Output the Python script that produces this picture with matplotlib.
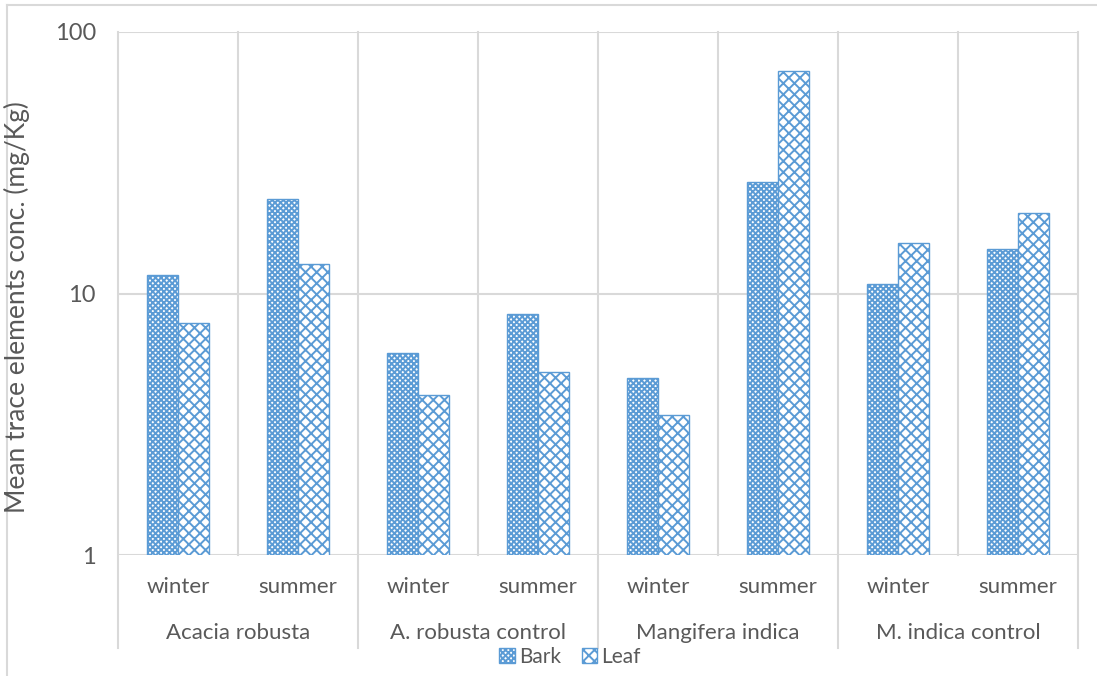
import numpy as np
import matplotlib
matplotlib.use('Agg')
import matplotlib.pyplot as plt
import matplotlib.transforms as mtransforms
from matplotlib.lines import Line2D

# Data
groups = ['Acacia robusta', 'A. robusta control', 'Mangifera indica',
          'M. indica control']
seasons = ['winter', 'summer']
bark = [11.8, 23.0, 5.9, 8.35, 4.75, 26.7, 10.9, 14.8]
leaf = [7.7, 13.0, 4.09, 5.0, 3.43, 71.0, 15.6, 20.3]

plt.rcParams['font.family'] = ['Lato', 'DejaVu Sans']
plt.rcParams['hatch.linewidth'] = 1.4
txt = '#595959'
grid = '#D9D9D9'
blue = '#5B9BD5'

W, H = 1097, 676
fig = plt.figure(figsize=(W / 100, H / 100), dpi=100)
ax = fig.add_axes([118 / W, 1 - 555 / H, 960 / W, 523 / H])

x = np.arange(len(bark))
w = 0.26
ax.bar(x - w / 2, bark, w, facecolor='white', edgecolor=blue,
       hatch='xxxxxx', linewidth=1, label='Bark', zorder=3)
ax.bar(x + w / 2, leaf, w, facecolor='white', edgecolor=blue,
       hatch='xxx', linewidth=1, label='Leaf', zorder=3)

ax.set_yscale('log')
ax.set_ylim(1, 100)
ax.set_xlim(-0.5, len(bark) - 0.5)
ax.set_yticks([1, 10, 100])
ax.set_yticklabels(['1', '10', '100'])
ax.minorticks_off()
ax.set_xticks([])
ax.tick_params(axis='y', length=0, pad=16, labelsize=17, labelcolor=txt)
for s in ax.spines.values():
    s.set_visible(False)

# horizontal gridlines
for yv in [1, 10, 100]:
    ax.axhline(yv, color=grid, lw=1.5, zorder=1)

# vertical separators: short between seasons, long between groups
trans = mtransforms.blended_transform_factory(ax.transData, ax.transAxes)
for i in range(len(bark) + 1):
    xb = i - 0.5
    y0 = -0.178 if i % 2 == 0 else 0
    ax.plot([xb, xb], [y0, 1], color=grid, lw=1.5, transform=trans,
            clip_on=False, zorder=1)

# two-level category labels
for i in range(len(bark)):
    ax.text(i, -0.061, seasons[i % 2], transform=trans, ha='center',
            va='center', fontsize=16, color=txt)
for j, g in enumerate(groups):
    ax.text(2 * j + 0.5, -0.149, g, transform=trans, ha='center',
            va='center', fontsize=16, color=txt)

fig.text(17 / W, 1 - 307 / H, 'Mean trace elements conc. (mg/Kg)',
         rotation=90, ha='center', va='center', fontsize=19, color=txt)

leg = fig.legend(loc='center', bbox_to_anchor=(570 / W, 1 - 657 / H),
                 ncol=2, frameon=False, fontsize=15, handlelength=0.75,
                 handleheight=0.75, handletextpad=0.2, columnspacing=1.0,
                 labelcolor=txt)

# chart area border
fig.add_artist(Line2D([7 / W, 7 / W], [0, 1 - 5 / H], color=grid, lw=1.5))
fig.add_artist(Line2D([7 / W, 1], [1 - 5 / H, 1 - 5 / H], color=grid, lw=1.5))

fig.savefig('out.png', dpi=100)
